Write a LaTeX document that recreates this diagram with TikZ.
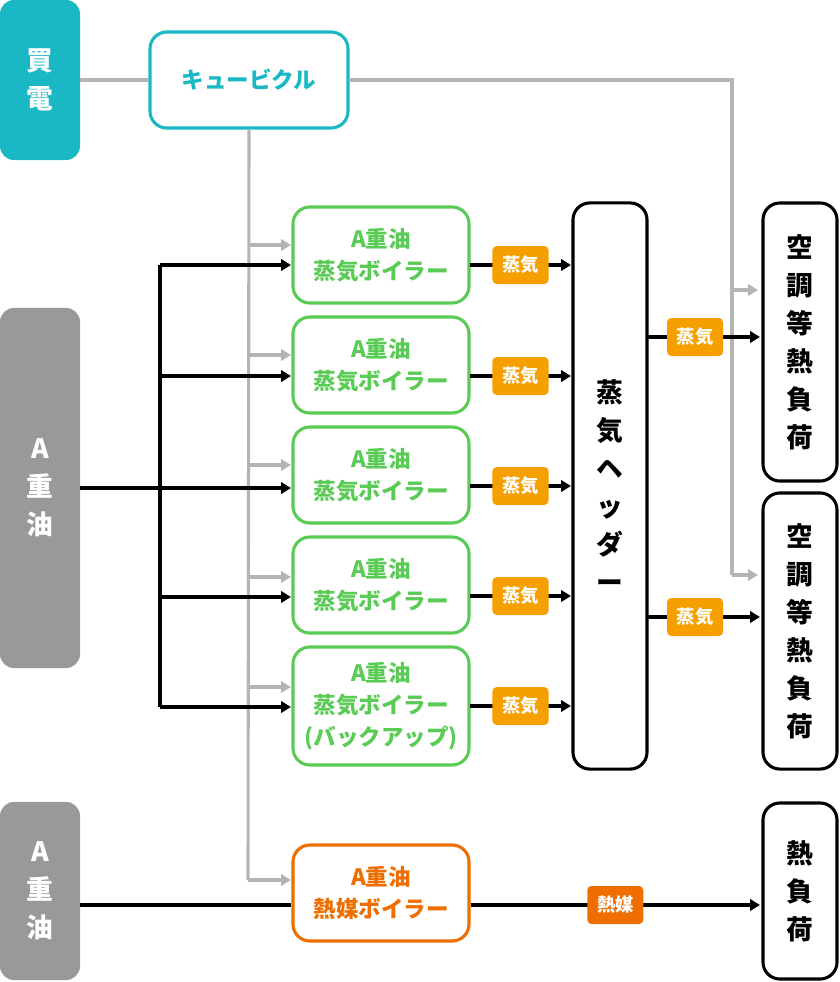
\documentclass[tikz,border=0pt]{standalone}
\usepackage{fontspec}
\setmainfont{Noto Sans CJK JP}
\usetikzlibrary{arrows.meta}
\definecolor{teal1}{HTML}{1AB8C4}
\definecolor{green1}{HTML}{5ACB55}
\definecolor{orange1}{HTML}{F5A000}
\definecolor{orange2}{HTML}{EE6E00}
\definecolor{gray1}{HTML}{999999}
\definecolor{gray2}{HTML}{B4B4B4}
\tikzset{
  srcbox/.style={fill=gray1, rounded corners=10pt, text=white, font=\bfseries\fontsize{19}{27}\selectfont, align=center, minimum width=2cm, inner sep=0pt},
  boiler/.style={draw=green1, line width=2.2pt, fill=white, rounded corners=12pt, text=green1, font=\bfseries\fontsize{16}{23}\selectfont, align=center, minimum width=4.4cm, inner sep=0pt},
  loadbox/.style={draw=black, line width=2.2pt, fill=white, rounded corners=12pt, font=\bfseries\fontsize{19}{27}\selectfont, align=center, minimum width=1.85cm, inner sep=0pt},
  tag/.style={fill=orange1, rounded corners=3pt, text=white, font=\bfseries\fontsize{13}{14}\selectfont, minimum width=1.4cm, minimum height=0.95cm, inner sep=0pt},
  feed/.style={line width=2.2pt, -{Triangle[length=7pt,width=8pt]}},
  power/.style={gray2, line width=2.2pt, -{Triangle[length=7pt,width=8pt]}},
}
\begin{document}
\begin{tikzpicture}[x=0.025cm, y=-0.025cm]
\useasboundingbox (0,0) rectangle (840,982);
% sources
\node[srcbox, fill=teal1, minimum height=4cm] (buy) at (40,80) {買\\電};
\node[srcbox, minimum height=9cm] (oilA) at (40,488) {A\\重\\油};
\node[srcbox, minimum height=4.45cm] (oilB) at (40,891) {A\\重\\油};
\node[draw=teal1, line width=2.2pt, rounded corners=12pt, text=teal1, font=\bfseries\fontsize{16}{18}\selectfont, minimum width=4.95cm, minimum height=2.4cm] (cub) at (249,80) {キュービクル};
% boilers
\foreach \i/\y in {1/255, 2/365, 3/475, 4/585} {
  \node[boiler, minimum height=2.4cm] (b\i) at (381,\y) {A重油\\蒸気ボイラー};
}
\node[boiler, minimum height=2.95cm] (b5) at (381,706) {A重油\\蒸気ボイラー\\(バックアップ)};
\node[boiler, draw=orange2, text=orange2, minimum height=2.4cm] (hb) at (381,893) {A重油\\熱媒ボイラー};
% header and loads
\node[loadbox, minimum height=14.15cm] (hdr) at (610,486) {蒸\\気\\ヘ\\ッ\\ダ\\ー};
\node[loadbox, minimum height=6.95cm] (ld1) at (800,342) {空\\調\\等\\熱\\負\\荷};
\node[loadbox, minimum height=6.9cm] (ld2) at (800,631) {空\\調\\等\\熱\\負\\荷};
\node[loadbox, minimum height=4.4cm] (ld3) at (800,891) {熱\\負\\荷};
% power lines
\coordinate (pr) at (732,80);
\draw[gray2, line width=2.2pt] (buy.east) -- (cub.west);
\draw[gray2, line width=2.2pt] (cub.east) -- (pr) -- (732,575);
\draw[power] (732,290) -- (758,290);
\draw[power] (732,575) -- (758,575);
\draw[gray2, line width=2.2pt] (cub.south) -- (248,880);
\foreach \y in {245,355,465,577,687,880}
  \draw[power] (248,\y) -- (291,\y);
% fuel lines
\draw[line width=2.2pt] (160,265) -- (160,707);
\draw[feed] (oilA.east) -- (291,488);
\foreach \y in {265,376,597,707}
  \draw[feed] (160,\y) -- (291,\y);
\draw[line width=2.2pt] (oilB.east |- 0,905) -- (hb.west |- 0,905);
\draw[feed] (hb.east |- 0,905) -- node[tag, fill=orange2, pos=0.5] {熱媒} (760,905);
% steam
\foreach \y in {265,376,486,596,706}
  \draw[feed] (470,\y) -- node[tag] {蒸気} (571,\y);
\draw[feed] (648,337) -- node[tag, pos=0.42] {蒸気} (760,337);
\draw[feed] (648,617) -- node[tag, pos=0.42] {蒸気} (760,617);
\end{tikzpicture}
\end{document}
